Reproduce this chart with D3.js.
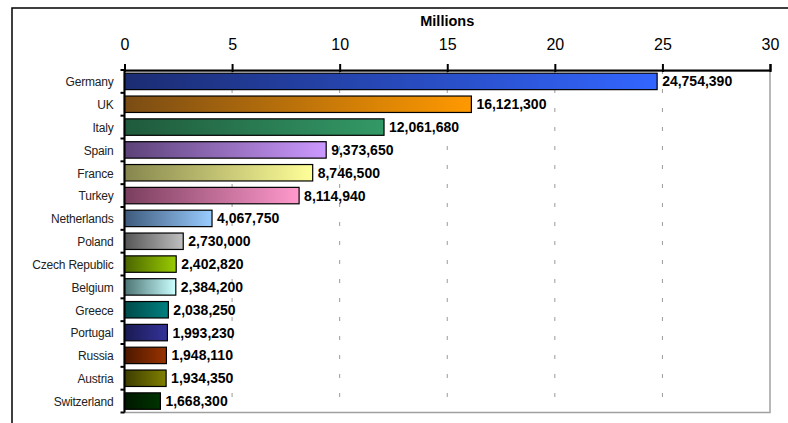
<!DOCTYPE html>
<html>
<head>
<meta charset="utf-8">
<script src="https://cdn.jsdelivr.net/npm/d3@7"></script>
<style>
  html, body { margin: 0; padding: 0; background: #fff; }
  svg { display: block; font-family: "Liberation Sans", Arial, sans-serif; }
</style>
</head>
<body>
<svg id="chart" width="788" height="423"></svg>
<script>
// Visitors by country
const countries = ["Germany", "UK", "Italy", "Spain", "France", "Turkey", "Netherlands",
  "Poland", "Czech Republic", "Belgium", "Greece", "Portugal", "Russia", "Austria", "Switzerland"];
const visitors = [24754390, 16121300, 12061680, 9373650, 8746500, 8114940, 4067750,
  2730000, 2402820, 2384200, 2038250, 1993230, 1948110, 1934350, 1668300];
const tickValues = [0, 5, 10, 15, 20, 25, 30];
const axisTitle = "Millions";
// gradient stops per bar: dark on the left, full colour on the right
const colorsDark = ["#1b2c72", "#7a4c14", "#1f5a3c", "#5c4278", "#86864e", "#7a3e5e", "#3e5a7c",
  "#555555", "#4a6400", "#4c7474", "#004a4a", "#1a1a52", "#4c1800", "#3c3c00", "#001800"];
const colorsLight = ["#3366ff", "#ff9900", "#339966", "#cc99ff", "#ffff99", "#ff99cc", "#99ccff",
  "#c0c0c0", "#99cc00", "#ccffff", "#008080", "#333399", "#993300", "#808000", "#003300"];

const svg = d3.select("#chart");
const plot = { left: 124.5, right: 770, top: 70, bottom: 412.5 };

const x = d3.scaleLinear().domain([0, 30]).range([plot.left, plot.right]);
const y = d3.scaleBand().domain(countries).range([plot.top, plot.bottom]).paddingInner(0.28).paddingOuter(0.14);

// outer chart frame (runs off the right and bottom edges)
svg.append("rect")
  .attr("x", 12).attr("y", 8).attr("width", 800).attr("height", 440)
  .attr("fill", "none").attr("stroke", "#000").attr("stroke-width", 1.5);

const defs = svg.append("defs");
countries.forEach((c, i) => {
  const g = defs.append("linearGradient").attr("id", "grad" + i)
    .attr("x1", "0%").attr("x2", "100%").attr("y1", "0%").attr("y2", "0%");
  g.append("stop").attr("offset", "0%").attr("stop-color", colorsDark[i]);
  g.append("stop").attr("offset", "100%").attr("stop-color", colorsLight[i]);
});

// dashed gridlines
svg.append("g").selectAll("line")
  .data(tickValues.filter(t => t > 0 && t < 30))
  .join("line")
  .attr("x1", d => x(d)).attr("x2", d => x(d))
  .attr("y1", plot.top).attr("y2", plot.bottom)
  .attr("stroke", "#9a9a9a").attr("stroke-width", 1)
  .attr("stroke-dasharray", "4,15");

// plot area border
svg.append("rect")
  .attr("x", plot.left).attr("y", plot.top + 1.2)
  .attr("width", plot.right - plot.left).attr("height", plot.bottom - plot.top - 1.2)
  .attr("fill", "none").attr("stroke", "#a0a0a0").attr("stroke-width", 1.5);

// bars
svg.append("g").selectAll("rect")
  .data(countries)
  .join("rect")
  .attr("x", x(0))
  .attr("y", d => y(d))
  .attr("width", (d, i) => x(visitors[i] / 1e6) - x(0))
  .attr("height", y.bandwidth())
  .attr("fill", (d, i) => `url(#grad${i})`)
  .attr("stroke", "#000").attr("stroke-width", 1.2);

// value labels
const fmt = d3.format(",");
svg.append("g").selectAll("text")
  .data(countries)
  .join("text")
  .attr("x", (d, i) => x(visitors[i] / 1e6) + 5)
  .attr("y", d => y(d) + y.bandwidth() / 2)
  .attr("dy", "0.36em")
  .attr("font-size", 14).attr("font-weight", "bold").attr("fill", "#000")
  .text((d, i) => fmt(visitors[i]));

// top value axis
const xAxis = svg.append("g")
  .attr("transform", `translate(0,${plot.top})`)
  .call(d3.axisTop(x).tickValues(tickValues).tickSize(6).tickPadding(14).tickFormat(d3.format("d")));
xAxis.select(".domain").attr("stroke", "#000").attr("stroke-width", 2);
xAxis.selectAll(".tick line").attr("stroke", "#000").attr("stroke-width", 2).attr("y2", -6).attr("y1", 2);
xAxis.selectAll(".tick text").attr("font-size", 16).attr("fill", "#000")
  .attr("font-family", "Liberation Sans, Arial, sans-serif");

svg.append("text")
  .attr("x", (plot.left + plot.right) / 2).attr("y", 26)
  .attr("text-anchor", "middle")
  .attr("font-size", 14.5).attr("font-weight", "bold")
  .text(axisTitle);

// left category axis
const yAxis = svg.append("g").attr("transform", `translate(${plot.left},0)`);
yAxis.append("line")
  .attr("x1", 0).attr("x2", 0).attr("y1", plot.top).attr("y2", plot.bottom)
  .attr("stroke", "#000").attr("stroke-width", 2);
const step = y.step();
yAxis.selectAll("line.tk")
  .data(d3.range(countries.length + 1))
  .join("line").attr("class", "tk")
  .attr("x1", -4).attr("x2", 0)
  .attr("y1", i => plot.top + i * step).attr("y2", i => plot.top + i * step)
  .attr("stroke", "#000").attr("stroke-width", 2);
yAxis.selectAll("text")
  .data(countries)
  .join("text")
  .attr("x", -11)
  .attr("y", d => y(d) + y.bandwidth() / 2)
  .attr("dy", "0.4em")
  .attr("text-anchor", "end")
  .attr("font-size", 12).attr("letter-spacing", -0.2).attr("fill", "#222")
  .text(d => d);
</script>
</body>
</html>
